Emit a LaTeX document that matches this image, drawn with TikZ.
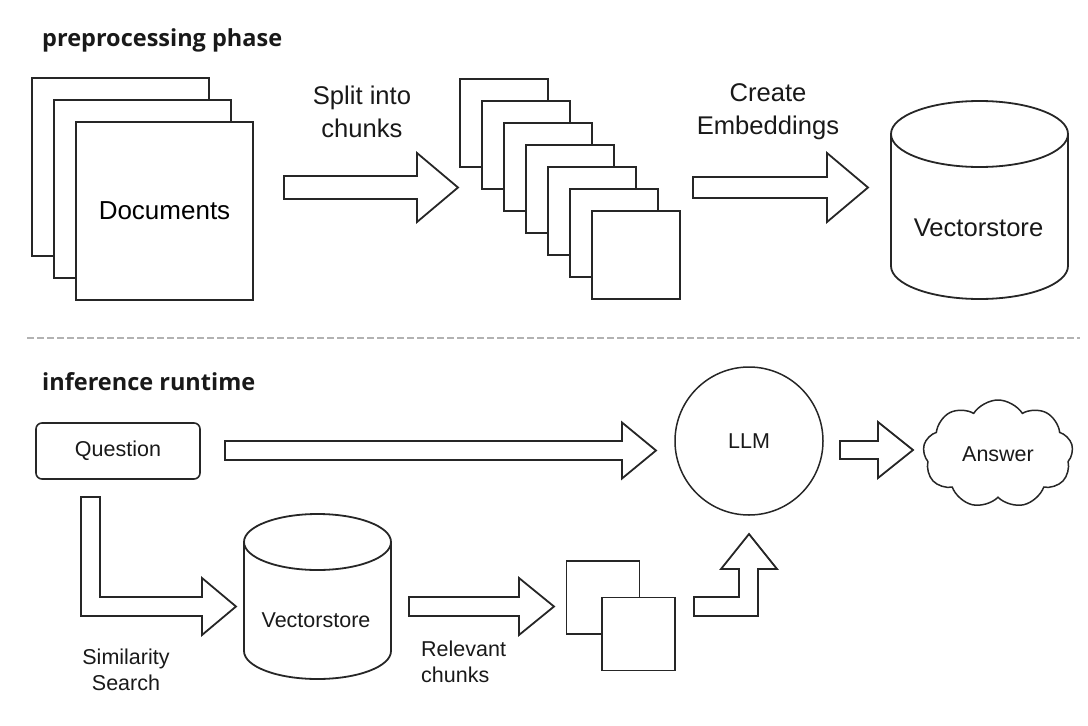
\documentclass[tikz,border=0pt]{standalone}
\usepackage{fontspec}
\setmainfont{Liberation Sans}
\newfontfamily\headfont{Open Sans}
\usetikzlibrary{shapes.symbols}

% block arrow pointing right: start x, mid y, head x, tip x, shaft half, head half
\newcommand{\fatarrow}[6]{%
  \draw[outline] (#1,#2-#5) -- (#3,#2-#5) -- (#3,#2-#6) -- (#4,#2)
    -- (#3,#2+#6) -- (#3,#2+#5) -- (#1,#2+#5) -- cycle;}
% database drum: centre x, top y, bottom y, x radius, y radius
\newcommand{\storedrum}[5]{%
  \draw[outline] (#1-#4,#2+#5) -- (#1-#4,#3-#5)
    arc[start angle=180,end angle=360,x radius=#4pt,y radius=#5pt]
    -- (#1+#4,#2+#5)
    arc[start angle=0,end angle=180,x radius=#4pt,y radius=#5pt] -- cycle
    (#1-#4,#2+#5) arc[start angle=180,end angle=360,x radius=#4pt,y radius=#5pt];}

\begin{document}
\begin{tikzpicture}[x=1pt,y=-1pt,
    outline/.style={draw=black!85,line width=1.8pt,line join=miter},
    page/.style={draw=black!85,line width=1.8pt,fill=white,minimum width=177pt,
      minimum height=178pt,inner sep=0pt,font=\fontsize{26}{30}\selectfont},
    chunk/.style={draw=black!85,line width=1.8pt,fill=white,minimum size=88pt,inner sep=0pt},
    biglabel/.style={font=\fontsize{25.6}{33}\selectfont,align=center,text=black!90},
    smalllabel/.style={font=\fontsize{21.5}{26}\selectfont,align=center,text=black!90},
    phase/.style={font=\headfont\bfseries\fontsize{23.5}{28}\selectfont,anchor=base west,
      inner sep=0pt,text=black!90}]
\useasboundingbox (0,0) rectangle (1088,726);

% preprocessing
\node[phase] (pre) at (42,46) {preprocessing phase};
\foreach \i in {0,1,2}
  {\node[page] (d\i) at (120.5+22*\i,167+22*\i) {\ifnum\i=2 Documents\fi};}
\fatarrow{284}{187.5}{417}{458}{11.5}{34.5}
\node[biglabel] (split) at (362,111.5) {Split into\\chunks};
\foreach \i in {0,...,6}
  {\node[chunk] (c\i) at (504+22*\i,123+22*\i) {};}
\fatarrow{693}{187.5}{827}{868}{10.5}{34.5}
\node[biglabel] (embed) at (768,112) {Create\\Embeddings};
\storedrum{979.5}{101}{299}{88.5}{33}
\node[biglabel] (vs) at (978.5,228) {Vectorstore};

\draw[black!30,line width=1.5pt,dash pattern=on 7pt off 3pt] (27,338) -- (1080,338);

% inference
\node[phase] (inf) at (42,390) {inference runtime};
\node[draw=black!85,line width=1.6pt,rounded corners=6pt,minimum width=164pt,
  minimum height=56pt,smalllabel] (q) at (118,451) {Question};
\fatarrow{225}{450.5}{622}{656}{9.5}{28}
\node[circle,draw=black!85,line width=1.5pt,minimum size=148pt,smalllabel] (llm) at (749,441) {LLM};
\fatarrow{840}{450}{878}{913}{9}{28}
\node[cloud,cloud puffs=9,cloud puff arc=115,aspect=1.45,draw=black!85,line width=1.5pt,
  minimum width=150pt,minimum height=108pt,inner sep=0pt,smalllabel] (ans) at (998,454) {Answer};

\draw[outline] (81,497) -- (100,497) -- (100,597) -- (202,597) -- (202,578) -- (236,606.5)
  -- (202,635) -- (202,616) -- (81,616) -- cycle;
\node[smalllabel] (sim) at (126,670) {Similarity\\Search};
\storedrum{317.5}{514}{679}{73.5}{28}
\node[smalllabel] (vs2) at (316,620) {Vectorstore};
\fatarrow{409}{606.5}{519}{554}{9.5}{28.5}
\node[smalllabel,align=left,anchor=west,inner sep=0pt] (rel) at (421,662) {Relevant\\chunks};
\node[chunk,minimum size=73pt] (r0) at (603,597.5) {};
\node[chunk,minimum size=73pt] (r1) at (638.5,634) {};
\draw[outline] (694,597) -- (739,597) -- (739,569) -- (721,569) -- (749,534) -- (777,569)
  -- (758,569) -- (758,616) -- (694,616) -- cycle;
\end{tikzpicture}
\end{document}
